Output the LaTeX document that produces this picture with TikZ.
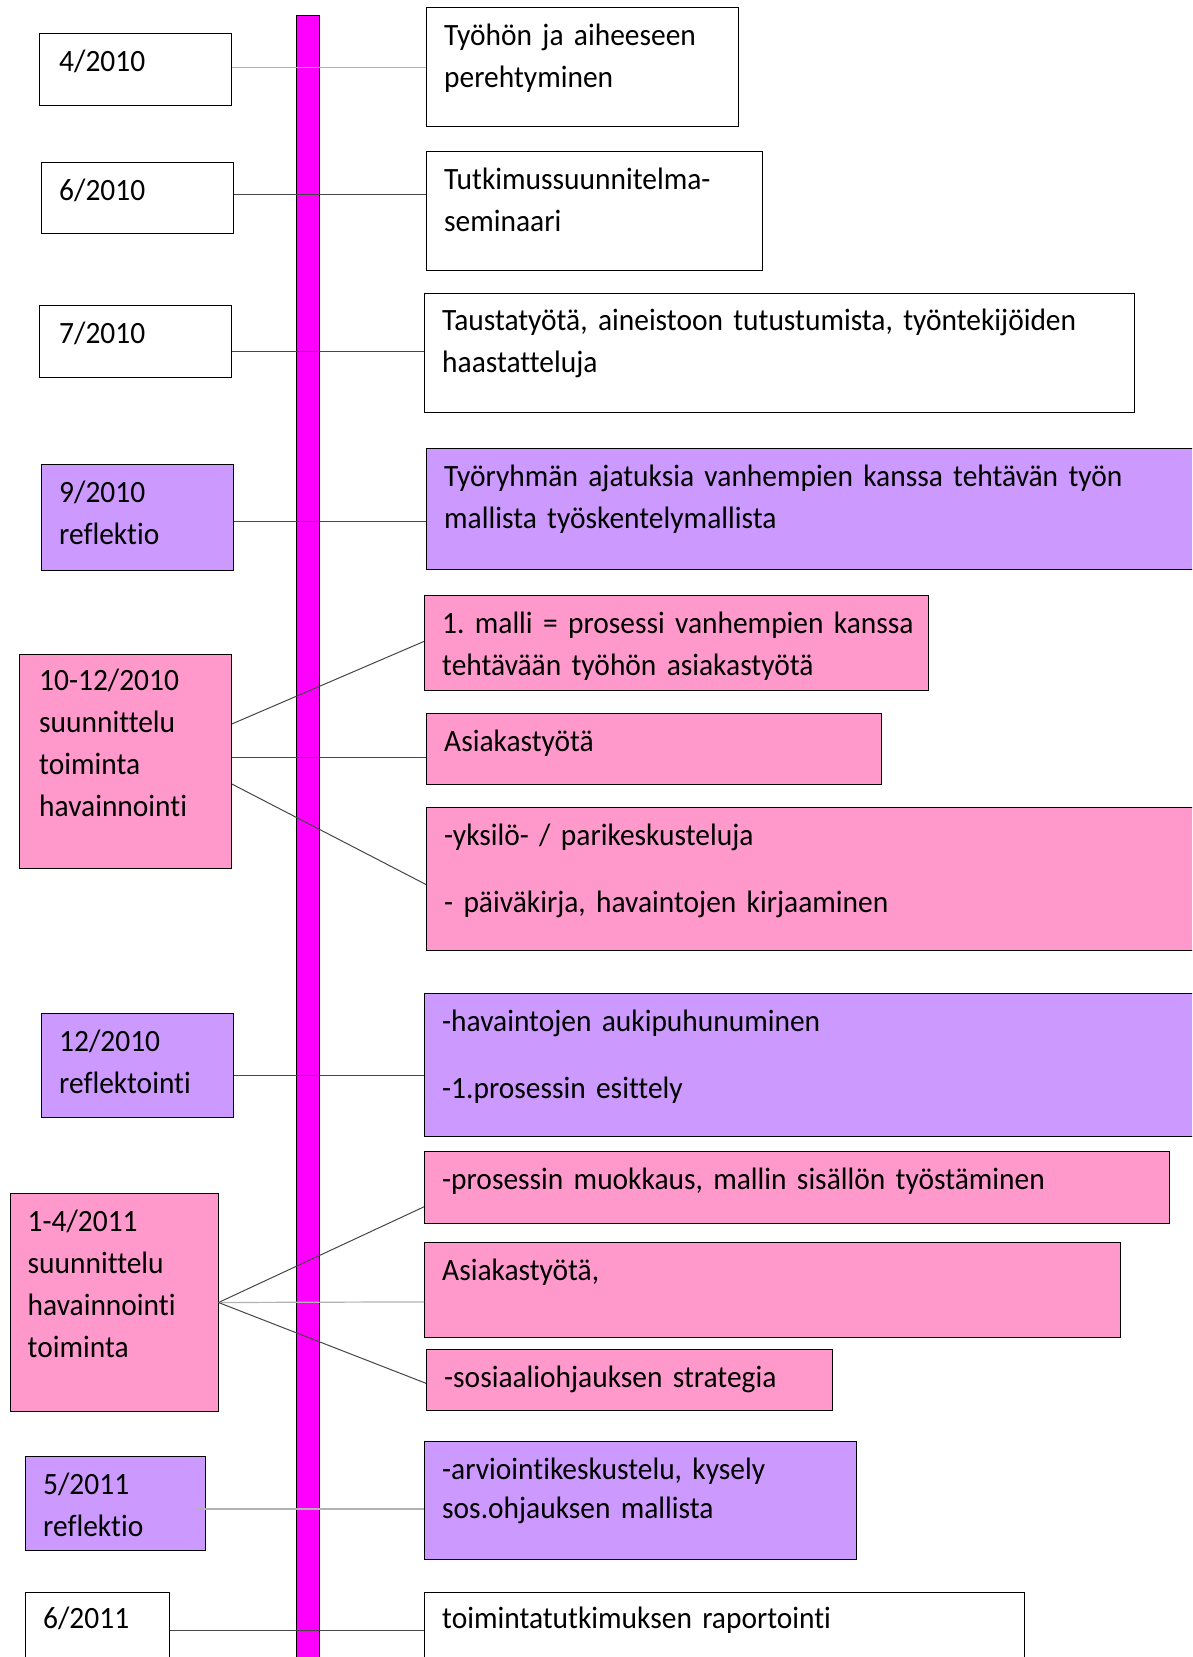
\documentclass[tikz,border=0pt]{standalone}
\usepackage{fontspec}
\setmainfont{Carlito}[FakeStretch=0.95, Ligatures=NoCommon]
\frenchspacing
\definecolor{lilac}{HTML}{CC99FF}
\definecolor{rosa}{HTML}{FF99CC}
\definecolor{axispink}{HTML}{FF00FF}
\tikzset{
  datebox/.style={draw=black, line width=1pt, anchor=north west, inner sep=0pt, fill=white},
  reflbox/.style={datebox, fill=lilac},
  workbox/.style={datebox, fill=rosa},
  boxtext/.style={anchor=base west, inner sep=0pt, text width=760pt, align=left,
    font=\fontsize{31}{42}\selectfont},
  link/.style={draw=gray!55!black, line width=1pt},
  palelink/.style={draw=gray!60, line width=1.2pt}
}
\begin{document}
\begin{tikzpicture}[x=1pt, y=-1pt]
            \clip (0,0) rectangle (1192,1657);
            \fill[white] (0,0) rectangle (1192,1657);
            % dates on the left
            \node[datebox, minimum width=192pt, minimum height=72pt]  (date1) at (39,33) {};
            \node[datebox, minimum width=192pt, minimum height=71pt]  (date2) at (41,162) {};
            \node[datebox, minimum width=192pt, minimum height=72pt]  (date3) at (39,305) {};
            \node[reflbox, minimum width=192pt, minimum height=106pt] (date4) at (41,464) {};
            \node[workbox, minimum width=212pt, minimum height=214pt] (date5) at (19,654) {};
            \node[reflbox, minimum width=192pt, minimum height=104pt] (date6) at (41,1013) {};
            \node[workbox, minimum width=208pt, minimum height=218pt] (date7) at (9.5,1193) {};
            \node[reflbox, minimum width=180pt, minimum height=94pt]  (date8) at (25,1456) {};
            \node[datebox, minimum width=144pt, minimum height=100pt] (date9) at (25,1592) {};
            % tasks on the right
            \node[datebox, minimum width=312pt, minimum height=119pt] (task1)  at (426,7) {};
            \node[datebox, minimum width=336pt, minimum height=119pt] (task2)  at (426,151) {};
            \node[datebox, minimum width=710pt, minimum height=119pt] (task3)  at (424,293) {};
            \node[reflbox, minimum width=800pt, minimum height=121pt] (task4)  at (426,448) {};
            \node[workbox, minimum width=504pt, minimum height=95pt]  (task5)  at (424,595) {};
            \node[workbox, minimum width=455pt, minimum height=71pt]  (task6)  at (426,713) {};
            \node[workbox, minimum width=800pt, minimum height=143pt] (task7)  at (426,807) {};
            \node[reflbox, minimum width=800pt, minimum height=143pt] (task8)  at (424,993) {};
            \node[workbox, minimum width=745pt, minimum height=72pt]  (task9)  at (424,1151) {};
            \node[workbox, minimum width=696pt, minimum height=95pt]  (task10) at (424,1242) {};
            \node[workbox, minimum width=406pt, minimum height=61pt]  (task11) at (426,1349) {};
            \node[reflbox, minimum width=432pt, minimum height=118pt] (task12) at (424,1441) {};
            \node[datebox, minimum width=600pt, minimum height=100pt] (task13) at (424,1592) {};
            % texts
            \node[boxtext] (date1t) at ([shift={(20,38)}]date1.north west) {4/2010};
            \node[boxtext] (date2t) at ([shift={(18,38)}]date2.north west) {6/2010};
            \node[boxtext] (date3t) at ([shift={(20,38)}]date3.north west) {7/2010};
            \node[boxtext] (date4t) at ([shift={(18,38)}]date4.north west) {9/2010\\reflektio};
            \node[boxtext] (date5t) at ([shift={(20,36)}]date5.north west) {10-12/2010\\suunnittelu\\toiminta\\havainnointi};
            \node[boxtext] (date6t) at ([shift={(18,38)}]date6.north west) {12/2010\\reflektointi};
            \node[boxtext] (date7t) at ([shift={(18,38)}]date7.north west) {1-4/2011\\suunnittelu\\havainnointi\\toiminta};
            \node[boxtext] (date8t) at ([shift={(18,38)}]date8.north west) {5/2011\\reflektio};
            \node[boxtext] (date9t) at ([shift={(18,36)}]date9.north west) {6/2011};
            \node[boxtext] (task1t)  at ([shift={(18,38)}]task1.north west)  {Työhön ja aiheeseen\\perehtyminen};
            \node[boxtext] (task2t)  at ([shift={(18,38)}]task2.north west)  {Tutkimussuunnitelma-\\seminaari};
            \node[boxtext] (task3t)  at ([shift={(18,37)}]task3.north west)  {Taustatyötä, aineistoon tutustumista, työntekijöiden\\haastatteluja};
            \node[boxtext] (task4t)  at ([shift={(18,38)}]task4.north west)  {Työryhmän ajatuksia vanhempien kanssa tehtävän työn\\mallista työskentelymallista};
            \node[boxtext] (task5t)  at ([shift={(18,38)}]task5.north west)  {1. malli = prosessi vanhempien kanssa\\tehtävään työhön asiakastyötä};
            \node[boxtext] (task6t)  at ([shift={(18,38)}]task6.north west)  {Asiakastyötä};
            \node[boxtext] (task7t)  at ([shift={(18,38)}]task7.north west)  {-yksilö- / parikeskusteluja\\[25pt]- päiväkirja, havaintojen kirjaaminen};
            \node[boxtext] (task8t)  at ([shift={(18,38)}]task8.north west)  {-havaintojen aukipuhunuminen\\[25pt]-1.prosessin esittely};
            \node[boxtext] (task9t)  at ([shift={(18,38)}]task9.north west)  {-prosessin muokkaus, mallin sisällön työstäminen};
            \node[boxtext] (task10t) at ([shift={(18,38)}]task10.north west) {Asiakastyötä,};
            \node[boxtext] (task11t) at ([shift={(18,38)}]task11.north west) {-sosiaaliohjauksen strategia};
            \node[boxtext] (task12t) at ([shift={(18,38)}]task12.north west) {-arviointikeskustelu, kysely\\[-3pt]sos.ohjauksen mallista};
            \node[boxtext] (task13t) at ([shift={(18,36)}]task13.north west) {toimintatutkimuksen raportointi};
            % time axis
            \draw[fill=axispink, line width=0.8pt] (296,15) rectangle (319,1670);
            % connectors
            \draw[palelink] (date1.east |- 0,67.6)   -- (task1.west |- 0,67.6);
            \draw[link]     (date2.east |- 0,194.4)  -- (task2.west |- 0,194.4);
            \draw[link]     (date3.east |- 0,351.9)  -- (task3.west |- 0,351.9);
            \draw[link]     (date4.east |- 0,521)    -- (task4.west |- 0,521);
            \draw[link]     (date5.east |- 0,723.9)  -- (task5.west |- 0,641.4);
            \draw[link]     (date5.east |- 0,757.7)  -- (task6.west |- 0,757.7);
            \draw[link]     (date5.east |- 0,784.1)  -- (task7.west |- 0,884.5);
            \draw[link]     (date6.east |- 0,1075.8) -- (task8.west |- 0,1075.8);
            \draw[link]     (date7.east) -- (task9.west |- 0,1206.8);
            \draw[palelink] (date7.east) -- (task10.west |- 0,1301.9);
            \draw[link]     (date7.east) -- (task11.west |- 0,1383.3);
            \draw[palelink] ([xshift=-8pt]date8.east |- 0,1509) -- (task12.west |- 0,1509);
            \draw[link]     (date9.east |- 0,1630.6) -- (task13.west |- 0,1630.6);
        \end{tikzpicture}
\end{document}
